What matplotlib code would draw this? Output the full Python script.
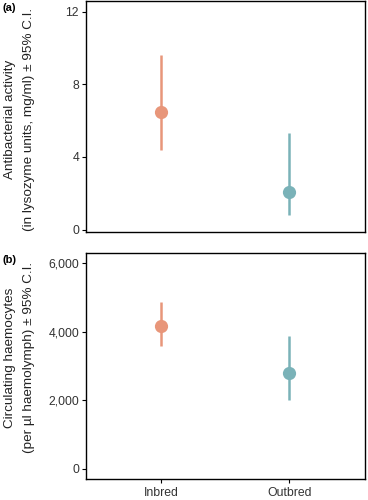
import numpy as np
import matplotlib
matplotlib.use("Agg")
import matplotlib.pyplot as plt

plt.rcParams['font.family'] = ['Liberation Sans', 'DejaVu Sans']

# data
groups = ['Inbred', 'Outbred']
colors = ['#E8967A', '#7AB2B8']

lyso_mean = [6.48, 2.09]
lyso_lo = [4.39, 0.81]
lyso_hi = [9.61, 5.34]

haemo_mean = [4175, 2785]
haemo_lo = [3582, 2005]
haemo_hi = [4858, 3874]

lyso_label = ['Antibacterial activity', '(in lysozyme units, mg/ml) ± 95% C.I.']
haemo_label = ['Circulating haemocytes', '(per µl haemolymph) ± 95% C.I.']

fig = plt.figure(figsize=(3.68, 5.0), dpi=100)
ax1 = fig.add_axes([0.2337, 0.536, 0.7583, 0.462])
ax2 = fig.add_axes([0.2337, 0.0426, 0.7583, 0.4508])

x = np.arange(1, len(groups) + 1)


def draw(ax, mean, lo, hi):
    for i in range(len(groups)):
        ax.vlines(x[i], lo[i], hi[i], color=colors[i], lw=1.8, zorder=2)
        ax.plot(x[i], mean[i], 'o', ms=9.5, color=colors[i], mec='none', zorder=3)
    ax.set_xlim(0.414, 2.59)
    for s in ax.spines.values():
        s.set_linewidth(1.0)
        s.set_color('black')
    ax.tick_params(axis='y', length=3, width=0.8, labelsize=8.8, colors='black',
                   labelcolor='#333333', pad=2)
    ax.tick_params(axis='x', length=3, width=0.8, labelsize=8.8, labelcolor='#333333', pad=3)


def ylab(lines, yc):
    # one text per line so the two lines sit like the stacked label in the original
    for xc, s in zip([0.026, 0.078], lines):
        fig.text(xc, yc, s, rotation=90, ha='center', va='center',
                 fontsize=9.7, color='#222222')


draw(ax1, lyso_mean, lyso_lo, lyso_hi)
ax1.set_ylim(-0.13, 12.59)
ax1.set_yticks([0, 4, 8, 12])
ax1.set_xticks(x)
ax1.set_xticklabels([])
ax1.tick_params(axis='x', length=0)
ylab(lyso_label, 0.762)

draw(ax2, haemo_mean, haemo_lo, haemo_hi)
ax2.set_ylim(-292, 6292)
ax2.set_yticks([0, 2000, 4000, 6000])
ax2.set_yticklabels(['0', '2,000', '4,000', '6,000'])
ax2.set_xticks(x)
ax2.set_xticklabels(groups)
ylab(haemo_label, 0.285)

fig.text(0.006, 0.984, '(a)', fontsize=8, fontweight='bold', va='center', ha='left')
fig.text(0.006, 0.48, '(b)', fontsize=8, fontweight='bold', va='center', ha='left')

fig.savefig('out.png', dpi=100)
